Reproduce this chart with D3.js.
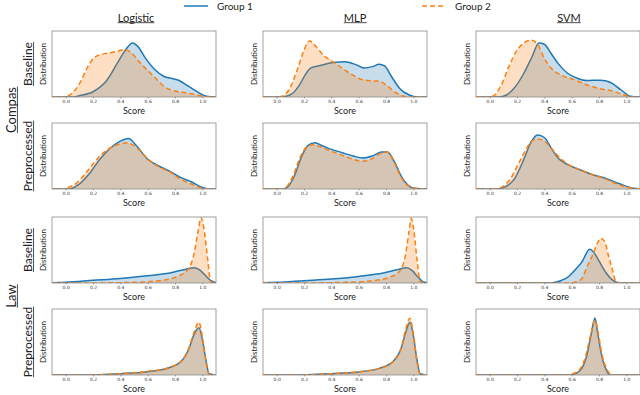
<!DOCTYPE html>
<html>
<head>
<meta charset="utf-8">
<script src="https://cdn.jsdelivr.net/npm/d3@7"></script>
<style>
  body { margin: 0; background: #fff; }
  svg text { font-family: Lato, "Open Sans", sans-serif; fill: #222; }
  .tick text { font-family: "DejaVu Sans", sans-serif; font-size: 4.5px; fill: #333; }
</style>
</head>
<body>
<div id="chart"></div>
<script>
const width = 640;
const height = 395;

// labels
const datasets = ["Compas", "Law"];
const stages = ["Baseline", "Preprocessed"];
const models = ["Logistic", "MLP", "SVM"];
const groups = ["Group 1", "Group 2"];
const xTicks = [0, 0.2, 0.4, 0.6, 0.8, 1.0];

// normalised kde values [score, density]
const compasBaseLog1 = [[-0.1,0],[0.05,0],[0.1,0.02],[0.2,0.08],[0.3,0.25],[0.38,0.52],[0.44,0.72],[0.49,0.82],[0.53,0.76],[0.58,0.6],[0.65,0.42],[0.72,0.31],[0.78,0.28],[0.83,0.25],[0.9,0.16],[0.97,0.07],[1.03,0.01],[1.1,0]];
const compasBaseLog2 = [[-0.1,0],[-0.02,0],[0.03,0.03],[0.1,0.2],[0.16,0.45],[0.21,0.6],[0.27,0.65],[0.33,0.67],[0.39,0.7],[0.43,0.72],[0.48,0.67],[0.54,0.53],[0.6,0.4],[0.66,0.28],[0.72,0.16],[0.78,0.1],[0.86,0.07],[0.94,0.04],[1.01,0.01],[1.1,0]];
const compasBaseMlp1 = [[-0.1,0],[0.03,0],[0.07,0.01],[0.12,0.06],[0.16,0.16],[0.21,0.34],[0.25,0.44],[0.3,0.47],[0.34,0.49],[0.43,0.525],[0.5,0.535],[0.58,0.49],[0.64,0.44],[0.7,0.46],[0.75,0.495],[0.79,0.47],[0.84,0.31],[0.9,0.13],[0.97,0.03],[1.03,0],[1.1,0]];
const compasBaseMlp2 = [[-0.1,0],[0,0],[0.04,0.01],[0.09,0.11],[0.15,0.41],[0.2,0.71],[0.24,0.85],[0.29,0.76],[0.34,0.635],[0.41,0.535],[0.48,0.435],[0.555,0.335],[0.63,0.26],[0.7,0.245],[0.75,0.24],[0.8,0.185],[0.86,0.085],[0.92,0.02],[0.97,0],[1.1,0]];
const compasBaseSvm1 = [[-0.1,0],[0.06,0],[0.1,0.01],[0.18,0.135],[0.25,0.36],[0.31,0.61],[0.36,0.82],[0.4,0.8],[0.45,0.66],[0.5,0.51],[0.57,0.36],[0.64,0.285],[0.71,0.25],[0.81,0.255],[0.885,0.22],[0.96,0.11],[1.03,0.01],[1.1,0]];
const compasBaseSvm2 = [[-0.1,0],[-0.02,0],[0.02,0.01],[0.08,0.16],[0.14,0.46],[0.2,0.71],[0.25,0.82],[0.3,0.86],[0.35,0.8],[0.4,0.585],[0.45,0.435],[0.52,0.335],[0.62,0.26],[0.71,0.185],[0.81,0.125],[0.91,0.085],[0.98,0.035],[1.05,0],[1.1,0]];
const compasPrepLog1 = [[-0.1,0],[0.03,0],[0.1,0.075],[0.18,0.25],[0.25,0.45],[0.33,0.625],[0.4,0.725],[0.46,0.765],[0.52,0.65],[0.6,0.45],[0.67,0.36],[0.77,0.26],[0.84,0.175],[0.92,0.11],[0.99,0.03],[1.05,0],[1.1,0]];
const compasPrepLog2 = [[-0.1,0],[-0.02,0],[0,0.01],[0.08,0.09],[0.17,0.3],[0.25,0.5],[0.33,0.625],[0.4,0.685],[0.45,0.7],[0.52,0.625],[0.6,0.46],[0.67,0.35],[0.77,0.25],[0.84,0.15],[0.92,0.075],[0.99,0.015],[1.05,0],[1.1,0]];
const compasPrepMlp1 = [[-0.1,0],[0.04,0],[0.08,0.03],[0.13,0.2],[0.18,0.48],[0.23,0.66],[0.28,0.7],[0.33,0.66],[0.4,0.6],[0.48,0.55],[0.56,0.5],[0.63,0.47],[0.7,0.5],[0.77,0.56],[0.81,0.56],[0.86,0.42],[0.91,0.2],[0.96,0.06],[1.01,0.01],[1.1,0]];
const compasPrepMlp2 = [[-0.1,0],[0.03,0],[0.07,0.03],[0.12,0.2],[0.17,0.47],[0.22,0.64],[0.27,0.67],[0.32,0.64],[0.4,0.57],[0.48,0.51],[0.56,0.45],[0.63,0.42],[0.7,0.46],[0.77,0.55],[0.81,0.56],[0.86,0.4],[0.91,0.18],[0.96,0.05],[1.01,0.01],[1.1,0]];
const compasPrepSvm1 = [[-0.1,0],[0.06,0],[0.1,0.02],[0.18,0.15],[0.25,0.45],[0.3,0.7],[0.35,0.82],[0.4,0.78],[0.45,0.62],[0.5,0.47],[0.57,0.37],[0.65,0.3],[0.75,0.22],[0.85,0.16],[0.95,0.08],[1.05,0.01],[1.1,0]];
const compasPrepSvm2 = [[-0.1,0],[0.03,0],[0.08,0.02],[0.15,0.15],[0.22,0.42],[0.28,0.65],[0.34,0.76],[0.39,0.74],[0.45,0.62],[0.5,0.5],[0.57,0.38],[0.65,0.3],[0.75,0.22],[0.85,0.15],[0.95,0.06],[1.05,0.01],[1.1,0]];
const lawBaseLog1 = [[-0.1,0.005],[0,0.01],[0.2,0.04],[0.4,0.07],[0.6,0.11],[0.78,0.16],[0.88,0.21],[0.94,0.23],[0.98,0.2],[1.02,0.12],[1.06,0.04],[1.1,0.005]];
const lawBaseLog2 = [[-0.1,0],[0.2,0],[0.5,0.01],[0.7,0.04],[0.83,0.11],[0.9,0.22],[0.94,0.45],[0.97,0.8],[0.99,0.99],[1.01,0.85],[1.04,0.35],[1.06,0.02],[1.1,0]];
const lawBaseMlp1 = [[-0.1,0.005],[0,0.01],[0.2,0.035],[0.4,0.06],[0.6,0.1],[0.78,0.15],[0.88,0.2],[0.95,0.23],[0.99,0.19],[1.03,0.1],[1.07,0.02],[1.1,0.005]];
const lawBaseMlp2 = [[-0.1,0],[0.2,0],[0.5,0.01],[0.7,0.035],[0.83,0.09],[0.9,0.18],[0.94,0.4],[0.97,0.8],[0.985,0.98],[1,0.85],[1.03,0.3],[1.05,0.02],[1.1,0]];
const lawBaseSvm1 = [[-0.1,0],[0.43,0],[0.52,0.035],[0.57,0.085],[0.63,0.21],[0.68,0.335],[0.71,0.46],[0.73,0.51],[0.76,0.47],[0.8,0.335],[0.85,0.16],[0.9,0.045],[0.96,0],[1.1,0]];
const lawBaseSvm2 = [[-0.1,0],[0.57,0],[0.64,0.02],[0.68,0.085],[0.71,0.235],[0.75,0.41],[0.79,0.61],[0.81,0.675],[0.84,0.635],[0.87,0.41],[0.9,0.185],[0.92,0.04],[0.96,0],[1.1,0]];
const lawPrepLog1 = [[-0.1,0],[0.13,0],[0.4,0.02],[0.6,0.05],[0.75,0.105],[0.85,0.215],[0.9,0.39],[0.94,0.615],[0.975,0.715],[1,0.54],[1.025,0.24],[1.05,0.02],[1.1,0]];
const lawPrepLog2 = [[-0.1,0],[0.13,0],[0.4,0.02],[0.6,0.055],[0.75,0.11],[0.85,0.22],[0.9,0.4],[0.94,0.65],[0.975,0.8],[1,0.58],[1.025,0.22],[1.05,0.01],[1.1,0]];
const lawPrepMlp1 = [[-0.1,0],[0.12,0],[0.4,0.02],[0.6,0.045],[0.75,0.1],[0.85,0.2],[0.91,0.4],[0.945,0.65],[0.975,0.8],[1,0.6],[1.025,0.25],[1.05,0.02],[1.1,0]];
const lawPrepMlp2 = [[-0.1,0],[0.12,0],[0.4,0.02],[0.6,0.05],[0.75,0.1],[0.85,0.2],[0.91,0.4],[0.945,0.7],[0.975,0.86],[1,0.62],[1.025,0.22],[1.05,0.01],[1.1,0]];
const lawPrepSvm1 = [[-0.1,0],[0.59,0],[0.66,0.065],[0.71,0.29],[0.745,0.64],[0.77,0.865],[0.79,0.64],[0.815,0.34],[0.85,0.09],[0.88,0],[1.1,0]];
const lawPrepSvm2 = [[-0.1,0],[0.555,0],[0.64,0.05],[0.7,0.27],[0.74,0.62],[0.77,0.83],[0.795,0.63],[0.82,0.33],[0.86,0.08],[0.9,0],[1.1,0]];

// grid: one row per dataset/stage, one column per model
const panels = [
  [[compasBaseLog1, compasBaseLog2], [compasBaseMlp1, compasBaseMlp2], [compasBaseSvm1, compasBaseSvm2]],
  [[compasPrepLog1, compasPrepLog2], [compasPrepMlp1, compasPrepMlp2], [compasPrepSvm1, compasPrepSvm2]],
  [[lawBaseLog1, lawBaseLog2], [lawBaseMlp1, lawBaseMlp2], [lawBaseSvm1, lawBaseSvm2]],
  [[lawPrepLog1, lawPrepLog2], [lawPrepMlp1, lawPrepMlp2], [lawPrepSvm1, lawPrepSvm2]]
];

const colLeft = [52, 263, 476];
const rowTop = [31, 123, 217, 309];
const panelW = 164;
const panelH = 66;
const colors = ["#1f77b4", "#ff7f0e"];
const titleX = [136, 355, 569];

const svg = d3.select("#chart")
  .append("svg")
    .attr("width", width)
    .attr("height", height);

// draws text with a line under it
function underlined(g, x, y, txt, size, rotate) {
  const t = g.append("g")
    .attr("transform", `translate(${x},${y})` + (rotate ? " rotate(-90)" : ""));
  const el = t.append("text")
    .attr("text-anchor", "middle")
    .style("font-size", size + "px")
    .text(txt);
  const bb = el.node().getBBox();
  t.append("line")
    .attr("x1", bb.x).attr("x2", bb.x + bb.width)
    .attr("y1", bb.y + bb.height - size * 0.12)
    .attr("y2", bb.y + bb.height - size * 0.12)
    .style("stroke", "#222")
    .style("stroke-width", 0.8);
}

const x = d3.scaleLinear().domain([-0.1, 1.1]).range([0, panelW]);
const y = d3.scaleLinear().domain([0, 1]).range([panelH, 0]);

const area = d3.area()
  .x(d => x(d[0]))
  .y0(y(0))
  .y1(d => y(d[1]))
  .curve(d3.curveMonotoneX);
const line = d3.line()
  .x(d => x(d[0]))
  .y(d => y(d[1]))
  .curve(d3.curveMonotoneX);

panels.forEach((row, r) => {
  row.forEach((pair, c) => {
    const g = svg.append("g")
      .attr("transform", `translate(${colLeft[c]},${rowTop[r]})`);

    const clipId = `clip-${r}-${c}`;
    g.append("clipPath").attr("id", clipId)
      .append("rect")
        .attr("x", 0).attr("y", -2)
        .attr("width", panelW).attr("height", panelH + 2);

    const plot = g.append("g").attr("clip-path", `url(#${clipId})`);
    pair.forEach((series, i) => {
      plot.append("path")
        .datum(series)
        .attr("d", area)
        .style("fill", colors[i])
        .style("fill-opacity", 0.25);
      plot.append("path")
        .datum(series)
        .attr("d", line)
        .style("fill", "none")
        .style("stroke", colors[i])
        .style("stroke-width", 1.5)
        .style("stroke-dasharray", i === 1 ? "5,3" : null);
    });

    g.append("rect")
      .attr("width", panelW)
      .attr("height", panelH)
      .style("fill", "none")
      .style("stroke", "#8a8a8a")
      .style("stroke-width", 0.8);

    g.append("g")
      .attr("transform", `translate(0,${panelH})`)
      .call(d3.axisBottom(x).tickValues(xTicks).tickFormat(d3.format(".1f")).tickSize(1.5).tickPadding(1.5))
      .call(a => a.select(".domain").remove())
      .call(a => a.selectAll(".tick line").style("stroke", "#555").style("stroke-width", 0.5));

    g.append("text")
      .attr("x", panelW / 2)
      .attr("y", panelH + 17)
      .attr("text-anchor", "middle")
      .style("font-size", "9px")
      .text("Score");

    g.append("text")
      .attr("transform", `translate(-6,${panelH / 2}) rotate(-90)`)
      .attr("text-anchor", "middle")
      .style("font-size", "8px")
      .text("Distribution");
  });

  // stage label per row
  underlined(svg, 32, rowTop[r] + panelH / 2, stages[r % 2], 12, true);
});

// dataset labels
datasets.forEach((d, i) => {
  const mid = (rowTop[i * 2] + rowTop[i * 2 + 1] + panelH) / 2;
  underlined(svg, 16, mid, d, 13, true);
});

// model titles
models.forEach((m, i) => underlined(svg, titleX[i], 22, m, 11, false));

// legend
const legendX = [184, 422];
groups.forEach((grp, i) => {
  svg.append("line")
    .attr("x1", legendX[i]).attr("x2", legendX[i] + 24)
    .attr("y1", 6).attr("y2", 6)
    .style("stroke", colors[i])
    .style("stroke-width", 1.5)
    .style("stroke-dasharray", i === 1 ? "5,3" : null);
  svg.append("text")
    .attr("x", legendX[i] + 33)
    .attr("y", 9.5)
    .style("font-size", "10px")
    .text(grp);
});
</script>
</body>
</html>
